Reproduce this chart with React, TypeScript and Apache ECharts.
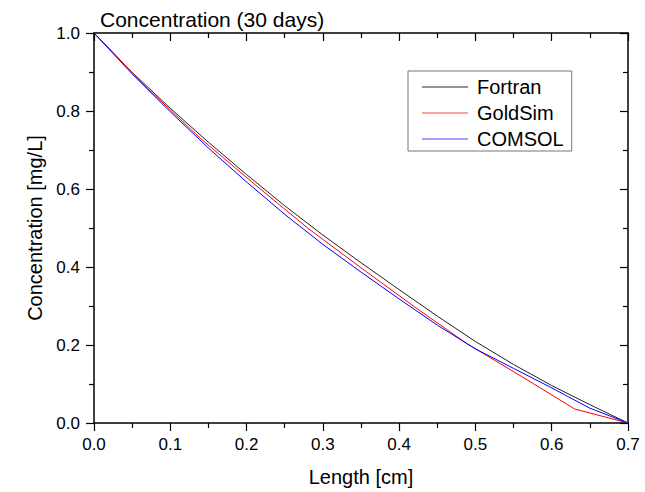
import React, { useEffect, useRef } from "react";
import * as echarts from "echarts";

// Fortran solution
const lengthFortran = [0, 0.05, 0.1, 0.15, 0.2, 0.25, 0.3, 0.35, 0.4, 0.45, 0.5, 0.55, 0.6, 0.65, 0.7];
const concFortran = [1.0, 0.899, 0.807, 0.72, 0.637, 0.557, 0.482, 0.411, 0.342, 0.274, 0.209, 0.15, 0.096, 0.047, 0.0];

// GoldSim solution (cell centres)
const lengthGoldSim = [0, 0.07, 0.14, 0.21, 0.28, 0.35, 0.42, 0.49, 0.56, 0.63, 0.7];
const concGoldSim = [1.0, 0.858, 0.729, 0.613, 0.5, 0.398, 0.298, 0.202, 0.12, 0.036, 0.0];

// COMSOL solution
const lengthComsol = [0, 0.05, 0.1, 0.15, 0.2, 0.25, 0.3, 0.35, 0.4, 0.45, 0.5, 0.55, 0.6, 0.65, 0.7];
const concComsol = [1.0, 0.895, 0.798, 0.705, 0.618, 0.535, 0.458, 0.387, 0.318, 0.251, 0.19, 0.14, 0.09, 0.038, 0.0];

const seriesNames = ["Fortran", "GoldSim", "COMSOL"];
const seriesColors = ["#222222", "#ff0000", "#0000ff"];
const legendColors = ["#707070", "#ff8080", "#8080ff"];

const FONT = "'Liberation Sans', Arial, sans-serif";

const pairs = (xs: number[], ys: number[]) => xs.map((x, i) => [x, ys[i]]);

export default function App() {
  const ref = useRef<HTMLDivElement>(null);

  useEffect(() => {
    if (!ref.current) return;
    const chart = echarts.init(ref.current, null, { renderer: "svg" });
    const axisLine = { show: true, onZero: false, lineStyle: { color: "#000", width: 1.5 } };
    const tickStyle = { color: "#000", width: 1.2 };
    const labelStyle = { color: "#000", fontSize: 17, fontFamily: FONT };
    const nameStyle = { color: "#000", fontSize: 20, fontFamily: FONT };
    const fmt = (v: number) => v.toFixed(1);

    chart.setOption({
      animation: false,
      backgroundColor: "#fff",
      title: {
        text: "Concentration (30 days)",
        left: 100,
        top: 9,
        padding: 0,
        textStyle: { color: "#000", fontSize: 21, fontWeight: "normal", fontFamily: FONT },
      },
      grid: { left: 94, right: 17, top: 33, bottom: 67, containLabel: false },
      legend: {
        data: seriesNames.map((n, i) => ({
          name: n,
          icon: "rect",
          itemStyle: { color: legendColors[i] },
        })),
        orient: "vertical",
        left: 408,
        top: 71,
        padding: [6, 8, 2, 14],
        borderColor: "#777",
        borderWidth: 1,
        itemWidth: 46,
        itemHeight: 1.5,
        itemGap: 6,
        textStyle: { color: "#000", fontSize: 20, fontFamily: FONT, padding: [0, 0, 0, 4] },
      },
      xAxis: [
        {
          type: "value",
          position: "bottom",
          min: 0,
          max: 0.7,
          interval: 0.1,
          name: "Length [cm]",
          nameLocation: "middle",
          nameGap: 44,
          nameTextStyle: nameStyle,
          axisLine,
          axisTick: { show: true, inside: false, length: 8, lineStyle: tickStyle },
          minorTick: { show: true, splitNumber: 2, length: 5, lineStyle: tickStyle },
          splitLine: { show: false },
          axisLabel: { ...labelStyle, margin: 13, formatter: fmt },
        },
        {
          type: "value",
          position: "top",
          min: 0,
          max: 0.7,
          interval: 0.1,
          axisLine,
          axisTick: { show: true, inside: true, length: 8, lineStyle: tickStyle },
          minorTick: { show: true, splitNumber: 2, length: 5, lineStyle: tickStyle },
          splitLine: { show: false },
          axisLabel: { show: false },
        },
      ],
      yAxis: [
        {
          type: "value",
          position: "left",
          min: 0,
          max: 1,
          interval: 0.2,
          name: "Concentration [mg/L]",
          nameLocation: "middle",
          nameGap: 48,
          nameTextStyle: nameStyle,
          axisLine,
          axisTick: { show: true, inside: false, length: 8, lineStyle: tickStyle },
          minorTick: { show: true, splitNumber: 2, length: 5, lineStyle: tickStyle },
          splitLine: { show: false },
          axisLabel: { ...labelStyle, margin: 14, formatter: fmt },
        },
        {
          type: "value",
          position: "right",
          min: 0,
          max: 1,
          interval: 0.2,
          axisLine,
          axisTick: { show: true, inside: true, length: 8, lineStyle: tickStyle },
          minorTick: { show: true, splitNumber: 2, length: 5, lineStyle: tickStyle },
          splitLine: { show: false },
          axisLabel: { show: false },
        },
      ],
      series: [
        {
          name: seriesNames[0],
          type: "line",
          data: pairs(lengthFortran, concFortran),
          symbol: "none",
          color: seriesColors[0],
          lineStyle: { width: 1, color: seriesColors[0] },
        },
        {
          name: seriesNames[1],
          type: "line",
          data: pairs(lengthGoldSim, concGoldSim),
          symbol: "none",
          color: seriesColors[1],
          lineStyle: { width: 1, color: seriesColors[1] },
        },
        {
          name: seriesNames[2],
          type: "line",
          data: pairs(lengthComsol, concComsol),
          symbol: "none",
          color: seriesColors[2],
          lineStyle: { width: 1, color: seriesColors[2] },
        },
      ],
    });
    return () => chart.dispose();
  }, []);

  return (
    <div
      ref={ref}
      style={{ position: "absolute", left: 0, top: 0, width: 645, height: 492, background: "#fff" }}
    />
  );
}
